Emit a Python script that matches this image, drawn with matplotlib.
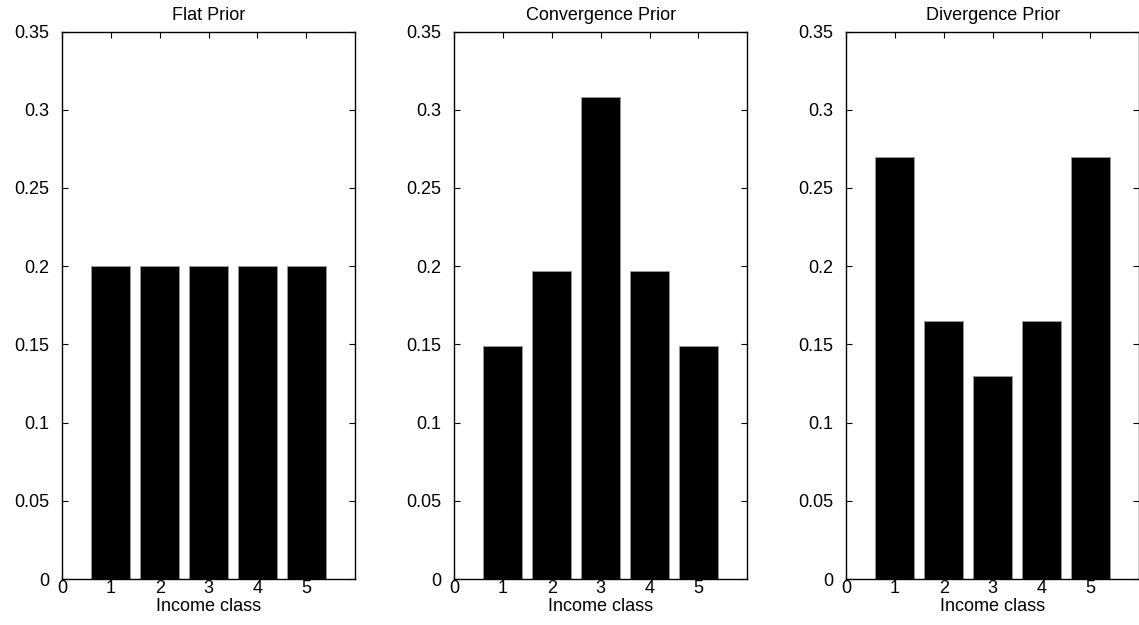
import numpy as np
import matplotlib.pyplot as plt

plt.rcParams['font.family'] = ['Liberation Sans', 'DejaVu Sans']

# prior probabilities per income class
classes = [1, 2, 3, 4, 5]
flat_prior = [0.2, 0.2, 0.2, 0.2, 0.2]
convergence_prior = [0.149, 0.197, 0.308, 0.197, 0.149]
divergence_prior = [0.270, 0.165, 0.130, 0.165, 0.270]

titles = ['Flat Prior', 'Convergence Prior', 'Divergence Prior']
priors = [flat_prior, convergence_prior, divergence_prior]
yticks = [0, 0.05, 0.1, 0.15, 0.2, 0.25, 0.3, 0.35]
ytick_labels = ['0', '0.05', '0.1', '0.15', '0.2', '0.25', '0.3', '0.35']

fig = plt.figure(figsize=(11.39, 6.25), dpi=100)
lefts = [0.0544, 0.3986, 0.7428]

for left, title, vals in zip(lefts, titles, priors):
    ax = fig.add_axes([left, 0.0736, 0.2575, 0.876])
    ax.bar(classes, vals, width=0.8, color='black', edgecolor='0.6', linewidth=0.6)
    ax.set_xlim(0, 6)
    ax.set_ylim(0, 0.35)
    ax.set_xticks([0, 1, 2, 3, 4, 5])
    ax.set_yticks(yticks)
    ax.set_yticklabels(ytick_labels)
    ax.tick_params(direction='in', length=4, width=0.8, top=True, right=True,
                   labelsize=13)
    ax.tick_params(axis='y', pad=9)
    ax.tick_params(axis='x', pad=1)
    for s in ax.spines.values():
        s.set_linewidth(1.0)
    ax.set_title(title, fontsize=13, pad=8)
    ax.set_xlabel('Income class', fontsize=13)
    ax.xaxis.set_label_coords(0.5, -0.034, transform=ax.transAxes)
    ax.xaxis.label.set_va('top')

fig.savefig('out.png', dpi=100)
